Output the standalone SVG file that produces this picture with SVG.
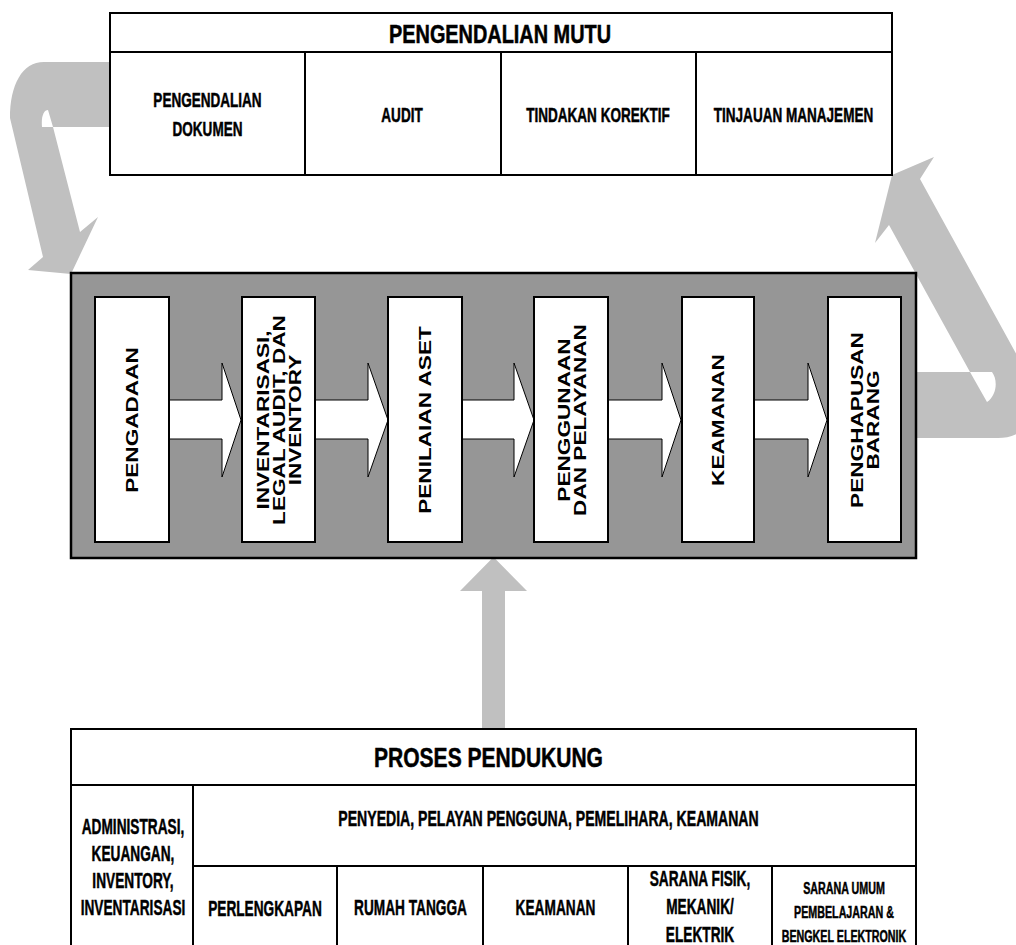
<svg xmlns="http://www.w3.org/2000/svg" width="1016" height="945" viewBox="0 0 1016 945">
  <defs>
    <style>
      .t { font-family: "Liberation Sans", Arial, sans-serif; font-weight: bold; fill: #000; text-anchor: middle; }
      .h { stroke: #000; stroke-width: 0.5; }
      .loop { fill: #c0c0c0; fill-rule: evenodd; }
      .flow { fill: #ffffff; stroke: #000; stroke-width: 1; }
      .cell { fill: #ffffff; stroke: #000; stroke-width: 2; }
      .rule { stroke: #000; stroke-width: 2; fill: none; }
      .panel { fill: #969696; stroke: #000; stroke-width: 2.5; }
      .step { fill: #ffffff; stroke: #000; stroke-width: 2; }
    </style>
  </defs>
  <rect width="1016" height="945" fill="#ffffff"/>

  <!-- feedback loop connectors (drawn beneath the blocks) -->
  <g id="connectors">
    <!-- quality control down into the process panel -->
    <path class="loop" d="M112,62 L44,62 C22,62 10,85 10,118 L43,257 L28,270 L71,274 L98,217 L80,232 L53,127 L112,127 Z M53,127 L48,110 C44,110 41,116 42,127 Z"/>
    <!-- process panel back up to quality control -->
    <path class="loop" d="M914,372 L970,372 L889,225 L875,243 L892,175 L934,157 L920,179 L1040,397 C1030,432 1015,438 998,438 L914,438 Z M970,372 L992,372 C998,380 997,395 987,402 Z"/>
    <!-- support processes feeding the panel -->
    <path class="loop" d="M482,730 L482,591 L460,591 L493.5,557 L527,591 L505,591 L505,730 Z"/>
  </g>

  <!-- quality control table -->
  <g id="pengendalian-mutu">
    <rect class="cell" x="110" y="13" width="782" height="162"/>
    <line class="rule" x1="110" y1="52" x2="892" y2="52"/>
    <line class="rule" x1="305" y1="52" x2="305" y2="175"/>
    <line class="rule" x1="501" y1="52" x2="501" y2="175"/>
    <line class="rule" x1="696" y1="52" x2="696" y2="175"/>
    <text class="t h" font-size="25.5" transform="translate(500,43) scale(0.78,1)">PENGENDALIAN MUTU</text>
    <text class="t h" font-size="21" transform="translate(207.5,107) scale(0.645,1)">PENGENDALIAN</text>
    <text class="t h" font-size="21" transform="translate(207.5,136) scale(0.645,1)">DOKUMEN</text>
    <text class="t h" font-size="21" transform="translate(402,122) scale(0.645,1)">AUDIT</text>
    <text class="t h" font-size="21" transform="translate(598,122) scale(0.645,1)">TINDAKAN KOREKTIF</text>
    <text class="t h" font-size="21" transform="translate(793.5,122) scale(0.645,1)">TINJAUAN MANAJEMEN</text>
  </g>

  <!-- main asset management process -->
  <g id="proses-utama">
    <rect class="panel" x="71" y="273" width="845" height="285"/>

    <g id="flow-arrows">
      <path class="flow" d="M166,400 L222,400 L222,363 L241,420 L222,477 L222,439 L166,439 Z"/>
      <path class="flow" d="M312,400 L368,400 L368,363 L388,420 L368,477 L368,439 L312,439 Z"/>
      <path class="flow" d="M459,400 L514,400 L514,363 L534,420 L514,477 L514,439 L459,439 Z"/>
      <path class="flow" d="M605,400 L662,400 L662,363 L681,420 L662,477 L662,439 L605,439 Z"/>
      <path class="flow" d="M751,400 L808,400 L808,363 L827,420 L808,477 L808,439 L751,439 Z"/>
    </g>

    <g id="pengadaan">
      <rect class="step" x="95" y="297" width="74" height="245"/>
      <text class="t" font-size="17" transform="translate(138,420) rotate(-90) scale(1.33,1)">PENGADAAN</text>
    </g>
    <g id="inventarisasi">
      <rect class="step" x="242" y="297" width="73" height="245"/>
      <text class="t" font-size="17" transform="translate(268.5,420) rotate(-90) scale(1.33,1)">INVENTARISASI,</text>
      <text class="t" font-size="17" transform="translate(284.5,420) rotate(-90) scale(1.33,1)">LEGAL AUDIT, DAN</text>
      <text class="t" font-size="17" transform="translate(300.5,420) rotate(-90) scale(1.33,1)">INVENTORY</text>
    </g>
    <g id="penilaian-aset">
      <rect class="step" x="388" y="297" width="74" height="245"/>
      <text class="t" font-size="17" transform="translate(431,420) rotate(-90) scale(1.33,1)">PENILAIAN ASET</text>
    </g>
    <g id="penggunaan">
      <rect class="step" x="534" y="297" width="74" height="245"/>
      <text class="t" font-size="17" transform="translate(569.5,420) rotate(-90) scale(1.33,1)">PENGGUNAAN</text>
      <text class="t" font-size="17" transform="translate(585.5,420) rotate(-90) scale(1.33,1)">DAN PELAYANAN</text>
    </g>
    <g id="keamanan">
      <rect class="step" x="682" y="297" width="72" height="245"/>
      <text class="t" font-size="17" transform="translate(724,420) rotate(-90) scale(1.33,1)">KEAMANAN</text>
    </g>
    <g id="penghapusan">
      <rect class="step" x="828" y="297" width="73" height="245"/>
      <text class="t" font-size="17" transform="translate(862.5,420) rotate(-90) scale(1.33,1)">PENGHAPUSAN</text>
      <text class="t" font-size="17" transform="translate(878.5,420) rotate(-90) scale(1.33,1)">BARANG</text>
    </g>
  </g>

  <!-- supporting processes table -->
  <g id="proses-pendukung">
    <rect class="cell" x="71" y="729" width="845" height="240"/>
    <line class="rule" x1="71" y1="785" x2="916" y2="785"/>
    <line class="rule" x1="193" y1="866" x2="916" y2="866"/>
    <line class="rule" x1="193" y1="785" x2="193" y2="960"/>
    <line class="rule" x1="337" y1="866" x2="337" y2="960"/>
    <line class="rule" x1="483" y1="866" x2="483" y2="960"/>
    <line class="rule" x1="628" y1="866" x2="628" y2="960"/>
    <line class="rule" x1="772" y1="866" x2="772" y2="960"/>

    <text class="t h" font-size="28.5" transform="translate(488.5,767) scale(0.738,1)">PROSES PENDUKUNG</text>
    <text class="t h" font-size="21.5" transform="translate(548.5,826) scale(0.655,1)">PENYEDIA, PELAYAN PENGGUNA, PEMELIHARA, KEAMANAN</text>

    <text class="t h" font-size="22.8" transform="translate(133,834) scale(0.6,1)">ADMINISTRASI,</text>
    <text class="t h" font-size="22.8" transform="translate(133,861) scale(0.6,1)">KEUANGAN,</text>
    <text class="t h" font-size="22.8" transform="translate(133,888) scale(0.6,1)">INVENTORY,</text>
    <text class="t h" font-size="22.8" transform="translate(133,915) scale(0.6,1)">INVENTARISASI</text>

    <text class="t h" font-size="22.8" transform="translate(265,916) scale(0.6,1)">PERLENGKAPAN</text>
    <text class="t h" font-size="22.8" transform="translate(410.5,915) scale(0.6,1)">RUMAH TANGGA</text>
    <text class="t h" font-size="22.8" transform="translate(555.5,915) scale(0.6,1)">KEAMANAN</text>

    <text class="t h" font-size="22.8" transform="translate(700,886) scale(0.6,1)">SARANA FISIK,</text>
    <text class="t h" font-size="22.8" transform="translate(700,914) scale(0.6,1)">MEKANIK/</text>
    <text class="t h" font-size="22.8" transform="translate(700,942) scale(0.6,1)">ELEKTRIK</text>

    <text class="t h" font-size="17" transform="translate(844,894) scale(0.63,1)">SARANA UMUM</text>
    <text class="t h" font-size="17" transform="translate(844,918) scale(0.63,1)">PEMBELAJARAN &amp;</text>
    <text class="t h" font-size="17" transform="translate(844,942) scale(0.63,1)">BENGKEL ELEKTRONIK</text>
  </g>
</svg>
